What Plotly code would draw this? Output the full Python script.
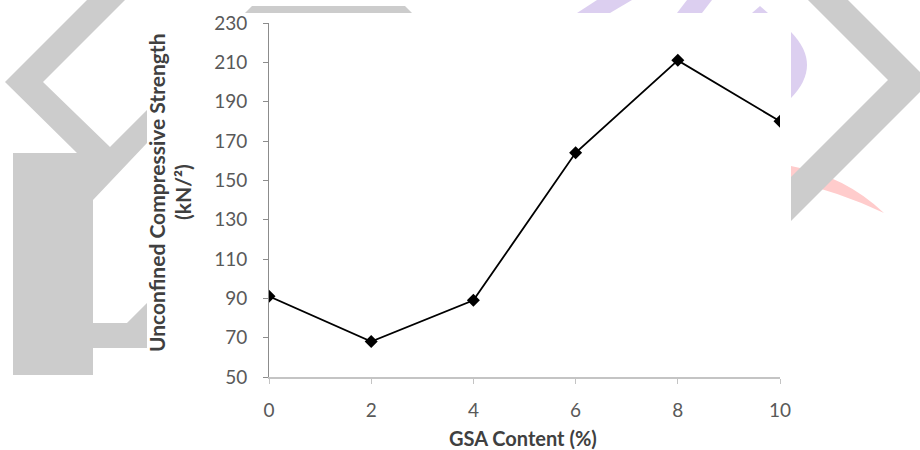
import plotly.graph_objects as go

# ---- data ----
gsa_content = [0, 2, 4, 6, 8, 10]
ucs_values = [91, 68, 89, 164, 211, 180]
y_ticks = [50, 70, 90, 110, 130, 150, 170, 190, 210, 230]
x_ticks = [0, 2, 4, 6, 8, 10]

# ---- layout geometry (pixels) ----
W, H = 920, 450
L, R, T, B = 269, 780, 23, 377


def px(x):
    return (x - L) / (R - L)


def py(y):
    return (B - y) / (B - T)


def poly(points):
    s = "M " + " L ".join(f"{px(x):.5f},{py(y):.5f}" for x, y in points) + " Z"
    return s


GREY = "#cccccc"
PURPLE = "#dccff0"
PINK = "#ffcccc"

shapes = []
# left watermark (chevron + Y + bar)
shapes.append(dict(type="path", xref="paper", yref="paper", layer="below",
                   fillcolor=GREY, line=dict(width=0),
                   path=poly([(87, 0), (125, 0), (43, 82), (110, 147), (147, 110),
                              (147, 143), (93, 200), (93, 323), (127, 323), (147, 303),
                              (147, 348), (93, 348), (93, 375), (13, 375), (13, 153),
                              (77, 153), (5, 82)])))
# top grey strip
shapes.append(dict(type="path", xref="paper", yref="paper", layer="below",
                   fillcolor=GREY, line=dict(width=0),
                   path=poly([(245, 13), (252, 6), (405, 6), (412, 13)])))
# purple pieces
shapes.append(dict(type="path", xref="paper", yref="paper", layer="below",
                   fillcolor=PURPLE, line=dict(width=0),
                   path=poly([(577, 13), (610, 13), (632, 0), (597, 0)])))
shapes.append(dict(type="path", xref="paper", yref="paper", layer="below",
                   fillcolor=PURPLE, line=dict(width=0),
                   path=poly([(677, 13), (702, 13), (712, 0), (687, 0)])))
shapes.append(dict(type="path", xref="paper", yref="paper", layer="below",
                   fillcolor=PURPLE, line=dict(width=0),
                   path=poly([(752, 13), (768, 13), (760, 6)])))
shapes.append(dict(type="path", xref="paper", yref="paper", layer="below",
                   fillcolor=PURPLE, line=dict(width=0),
                   path=f"M {px(791):.5f},{py(32):.5f} Q {px(823):.5f},{py(65):.5f} {px(791):.5f},{py(98):.5f} Z"))
# pink crescent
shapes.append(dict(type="path", xref="paper", yref="paper", layer="below",
                   fillcolor=PINK, line=dict(width=0),
                   path=(f"M {px(791):.5f},{py(166):.5f} Q {px(845):.5f},{py(176):.5f} {px(884):.5f},{py(213):.5f} "
                         f"Q {px(840):.5f},{py(192):.5f} {px(791):.5f},{py(181):.5f} Z")))
# right chevron (over the pink)
shapes.append(dict(type="path", xref="paper", yref="paper", layer="below",
                   fillcolor=GREY, line=dict(width=0),
                   path=poly([(808, 0), (848, 0), (930, 82), (791, 221), (791, 177), (888, 80)])))
# white chart-image area
shapes.append(dict(type="rect", xref="paper", yref="paper", layer="below",
                   x0=px(147), x1=px(791), y0=py(450), y1=py(13),
                   fillcolor="white", line=dict(width=0)))

fig = go.Figure()
fig.add_trace(go.Scatter(
    x=gsa_content, y=ucs_values, mode="lines+markers",
    line=dict(color="#000000", width=1.8),
    marker=dict(symbol="diamond", size=10, color="#000000"),
    showlegend=False, hoverinfo="x+y",
))

FONT = "Lato"
fig.update_layout(
    width=W, height=H,
    margin=dict(l=L, r=W - R, t=T, b=H - B, autoexpand=False),
    paper_bgcolor="white", plot_bgcolor="rgba(0,0,0,0)",
    shapes=shapes,
    showlegend=False,
    xaxis=dict(range=[0, 10], tickvals=x_ticks, ticktext=[str(v) for v in x_ticks],
               showgrid=False, zeroline=False, showline=True,
               linecolor="#c4c4c4", linewidth=2,
               ticks="outside", ticklen=5, tickcolor="#c4c4c4", tickwidth=1,
               tickfont=dict(family=FONT, size=19, color="#595959"),
               ticklabelstandoff=10),
    yaxis=dict(range=[50, 230], tickvals=y_ticks, ticktext=[str(v) for v in y_ticks],
               showgrid=False, zeroline=False, showline=True,
               linecolor="#8c8c8c", linewidth=1,
               ticks="outside", ticklen=5, tickcolor="#8c8c8c", tickwidth=1,
               tickfont=dict(family=FONT, size=19, color="#595959"),
               ticklabelstandoff=12),
    annotations=[
        dict(text="<b>Unconfined Compressive Strength</b>", xref="paper", yref="paper",
             x=px(156), y=py(193), textangle=-90, showarrow=False,
             xanchor="center", yanchor="middle",
             font=dict(family=FONT, size=21, color="#404040")),
        dict(text="<b>(kN/²)</b>", xref="paper", yref="paper",
             x=px(182), y=py(192), textangle=-90, showarrow=False,
             xanchor="center", yanchor="middle",
             font=dict(family=FONT, size=21, color="#404040")),
        dict(text="<b>GSA Content (%)</b>", xref="paper", yref="paper",
             x=px(523), y=py(438), showarrow=False,
             xanchor="center", yanchor="middle",
             font=dict(family=FONT, size=20, color="#404040")),
    ],
)

fig.write_html("out.html", config={"displayModeBar": False},
               post_script="document.body.style.margin='0';document.body.style.padding='0';")
